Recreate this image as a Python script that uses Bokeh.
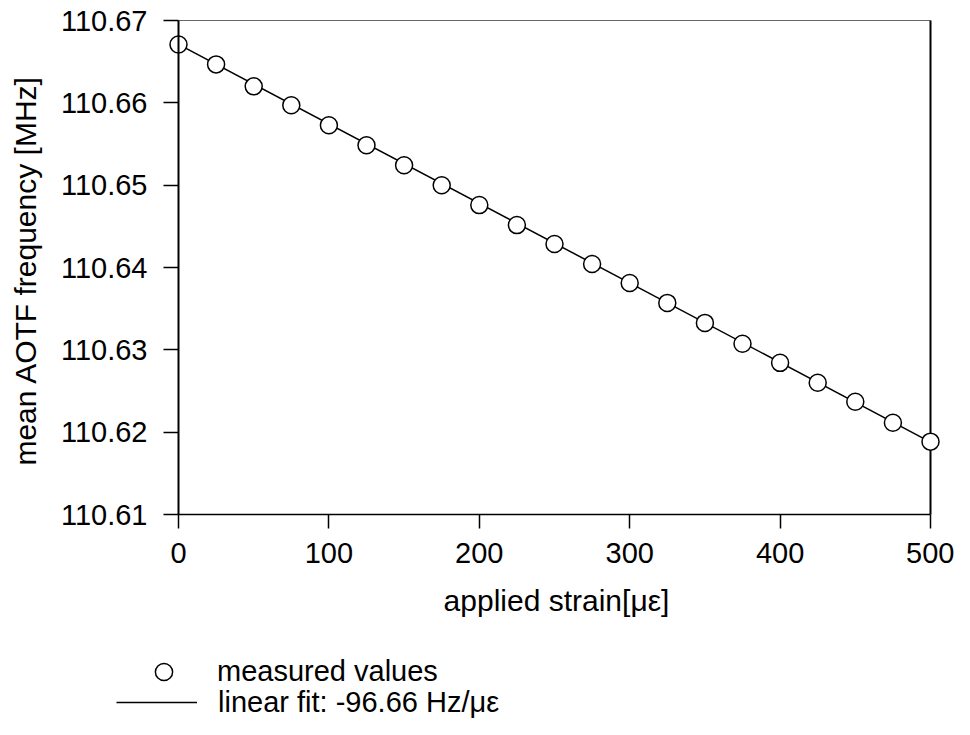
import math
from bokeh.plotting import figure
from bokeh.models import (Range1d, FixedTicker, PrintfTickFormatter, Legend,
                          LegendItem, Label)
from bokeh.embed import file_html
from bokeh.resources import INLINE

strain = [0, 25, 50, 75, 100, 125, 150, 175, 200, 225, 250,
          275, 300, 325, 350, 375, 400, 425, 450, 475, 500]
freq = [110.66709, 110.66467, 110.66200, 110.65970, 110.65727, 110.65485,
        110.65242, 110.65000, 110.64758, 110.64515, 110.64285, 110.64042,
        110.63812, 110.63570, 110.63327, 110.63073, 110.62842, 110.62600,
        110.62370, 110.62115, 110.61885]
fit_x = [0, 500]
fit_y = [110.6671, 110.6188]
x_ticks = [0, 100, 200, 300, 400, 500]
y_ticks = [110.61, 110.62, 110.63, 110.64, 110.65, 110.66, 110.67]
x_title = "applied strain[\u03bc\u03b5]"
y_title = "mean AOTF frequency [MHz]"
legend_labels = ["measured values", "linear fit: -96.66 Hz/\u03bc\u03b5"]

FONT = "Liberation Sans"
X0, X1 = x_ticks[0], x_ticks[-1]
Y0, Y1 = y_ticks[0], y_ticks[-1]

# canvas layout (pixels): the plotting box and the canvas size
W, H = 954, 719
BOX_L, BOX_R, BOX_T, BOX_B = 178, 930, 20, 514
kx = (BOX_R - BOX_L) / (X1 - X0)
ky = (BOX_B - BOX_T) / (Y1 - Y0)
x_range = Range1d(X0 - BOX_L / kx, X1 + (W - BOX_R) / kx)
y_range = Range1d(Y0 - (H - BOX_B) / ky, Y1 + BOX_T / ky)

p = figure(width=W, height=H, output_backend="svg", toolbar_location=None,
           x_range=x_range, y_range=y_range,
           min_border_left=0, min_border_right=0, min_border_top=0,
           min_border_bottom=0)
p.grid.visible = False
p.outline_line_color = None

# top and right edges of the plotting box
p.segment(x0=[X0, X1], y0=[Y1, Y0], x1=[X1, X1], y1=[Y1, Y1],
          line_color=["#666666", "black"], line_width=[1.1, 2])

line_r = p.line(fit_x, fit_y, line_color="black", line_width=1.5)
pts_r = p.scatter(strain, freq, marker="circle", size=17, fill_color="white",
                  line_color="black", line_width=1.5)

for ax in (p.xaxis[0], p.yaxis[0]):
    ax.axis_line_color = "black"
    ax.major_tick_line_color = "black"
    ax.major_tick_in = 0
    ax.minor_tick_line_color = None
    ax.major_label_text_font = FONT
    ax.major_label_text_font_size = "29px"
    ax.major_label_text_color = "black"

p.xaxis.fixed_location = Y0
p.yaxis.fixed_location = X0
p.xaxis.bounds = (X0, X1)
p.yaxis.bounds = (Y0, Y1)
p.xaxis.axis_line_width = 1.5
p.yaxis.axis_line_width = 2
p.xaxis.major_tick_line_width = 1.5
p.yaxis.major_tick_line_width = 1.5
p.xaxis.major_tick_out = 14
p.yaxis.major_tick_out = 15
p.xaxis.ticker = FixedTicker(ticks=x_ticks)
p.yaxis.ticker = FixedTicker(ticks=y_ticks)
p.yaxis.formatter = PrintfTickFormatter(format="%.2f")
p.xaxis.major_label_standoff = 14
p.yaxis.major_label_standoff = 16

# axis titles
p.add_layout(Label(x=556, y=H - 600, x_units="screen", y_units="screen",
                   text=x_title, text_font=FONT, text_font_size="30px",
                   text_color="black", text_align="center",
                   text_baseline="middle"))
p.add_layout(Label(x=25, y=H - 270, x_units="screen", y_units="screen",
                   text=y_title, text_font=FONT, text_font_size="30px",
                   text_color="black", text_align="center",
                   text_baseline="middle", angle=math.pi / 2))


def make_legend(label, renderer, loc, gw, gh, standoff):
    return Legend(items=[LegendItem(label=label, renderers=[renderer])],
                  location=loc, glyph_width=gw, glyph_height=gh,
                  label_standoff=standoff, padding=0, margin=0,
                  border_line_color=None, background_fill_alpha=0,
                  label_text_font=FONT, label_text_font_size="29px",
                  label_text_color="black", spacing=0)


p.add_layout(make_legend(legend_labels[0], pts_r, (142, 26), 43, 43, 32))
p.add_layout(make_legend(legend_labels[1], line_r, (116, 0), 81, 34, 21))

open("out.html", "w").write(file_html(p, INLINE))
